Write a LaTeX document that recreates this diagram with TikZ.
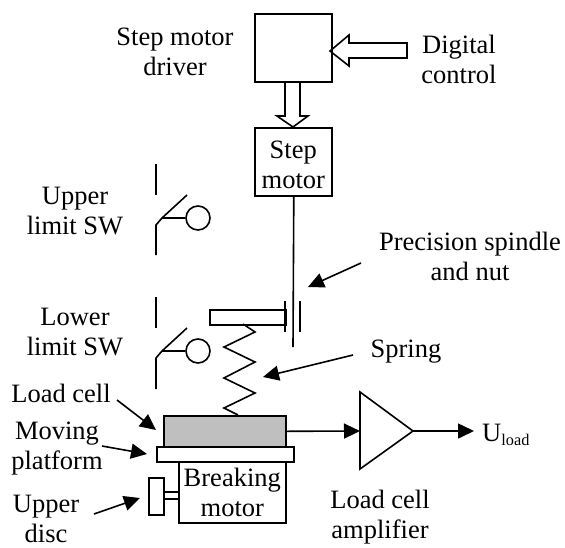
\documentclass[tikz,border=0pt]{standalone}
\usepackage{fontspec}
\setmainfont{Liberation Serif}
\usetikzlibrary{arrows.meta}
\tikzset{
  x=1pt,y=-1pt,
  ln/.style={line width=1.6pt,line join=miter},
  lbl/.style={font=\fontsize{26.5}{30}\selectfont,align=center,inner sep=0pt,text=black},
  solidarrow/.style={line width=1.6pt,-{Triangle[length=16pt,width=15pt]}},
  blockbox/.style={draw,ln,inner sep=0pt,anchor=north west},
}
\begin{document}
\begin{tikzpicture}
\useasboundingbox (0,0) rectangle (565,547);
% boxes
\node[blockbox,minimum width=77pt,minimum height=68pt] (driver) at (254,13) {};
\node[blockbox,minimum width=77pt,minimum height=68pt,lbl] (stepm) at (254,127) {\rule{0pt}{24pt}Step\\motor};
\node[blockbox,minimum width=122pt,minimum height=31pt,fill=black!25] (cell) at (163,415) {};
\node[blockbox,minimum width=137pt,minimum height=15pt,fill=white] (plat) at (156,446) {};
\node[blockbox,minimum width=107pt,minimum height=61pt,lbl] (brake) at (178,461) {Breaking\\motor};
\node[blockbox,minimum width=15pt,minimum height=37pt] (disc) at (148,477) {};
\node[blockbox,minimum width=76pt,minimum height=15pt] (nutplate) at (209,309) {};
% hollow arrows
\draw[ln] (285,81) -- (285,116) -- (277,116) -- (293,127) -- (308,116) -- (300,116) -- (300,81);
\draw[ln] (407,43) -- (349,43) -- (349,35) -- (330,51) -- (349,66) -- (349,58) -- (407,58) -- cycle;
% spindle and nut
\coordinate (spinend) at (293,347);
\draw[ln] (stepm.south) ++(0.5,0) -- (spinend);
\draw[ln] (285,301) -- (285,332);
\draw[ln] (300,301) -- (300,332);
% spring
\draw[ln] (243,324) -- (255,332) -- (224,347) -- (255,362) -- (224,378) -- (255,393) -- (224,408) -- (238,415);
% shaft
\draw[ln] (163,492) -- (178,492) (163,499) -- (178,499);
% switches
\draw[ln] (156,164) -- (156,195);
\draw[ln] (187,195) -- (162,218) -- (156,225) -- (156,255);
\node[draw,ln,circle,minimum size=24pt,inner sep=0pt] (c1) at (198,218) {};
\draw[ln] (162,218) -- (c1.west);
\draw[ln] (156,297) -- (156,328);
\draw[ln] (187,328) -- (162,351) -- (156,358) -- (156,389);
\node[draw,ln,circle,minimum size=24pt,inner sep=0pt] (c2) at (198,351) {};
\draw[ln] (162,351) -- (c2.west);
% amplifier
\coordinate (ampin) at (360,431);
\coordinate (ampout) at (413,431);
\coordinate (uout) at (474,431);
\draw[ln] (360,392) -- (ampout) -- (360,469) -- cycle;
\draw[solidarrow] (cell.east) -- (ampin);
\draw[solidarrow] (ampout) -- (uout);
% leader arrows
\coordinate (a1s) at (361,263); \coordinate (a1e) at (308,287);
\coordinate (a2s) at (353,355); \coordinate (a2e) at (263,377);
\coordinate (a3s) at (117,400); \coordinate (a3e) at (156,430);
\coordinate (a4s) at (102,446); \coordinate (a4e) at (147,454);
\coordinate (a5s) at (94,514); \coordinate (a5e) at (140,498);
\draw[solidarrow] (a1s) -- (a1e);
\draw[solidarrow] (a2s) -- (a2e);
\draw[solidarrow] (a3s) -- (a3e);
\draw[solidarrow] (a4s) -- (a4e);
\draw[solidarrow] (a5s) -- (a5e);
% labels
\node[lbl] (t1) at (175,51.5) {Step motor\\driver};
\node[lbl] (t2) at (459,59) {Digital\\control};
\node[lbl] (t3) at (75,211.5) {Upper\\limit SW};
\node[lbl] (t4) at (470,256.5) {Precision spindle\\and nut};
\node[lbl] (t5) at (75,332.5) {Lower\\limit SW};
\node[lbl] (t6) at (406,352) {Spring};
\node[lbl] (t7) at (61,393) {Load cell};
\node[lbl] (t8) at (57,449) {Moving\\platform};
\node[lbl] (t9) at (46,519) {Upper\\disc};
\node[lbl] (t10) at (380,517) {Load cell\\amplifier};
\node[lbl,anchor=base west] (t11) at (482,441) {U\raisebox{-4pt}{\fontsize{16.3}{18}\selectfont load}};
\end{tikzpicture}
\end{document}
